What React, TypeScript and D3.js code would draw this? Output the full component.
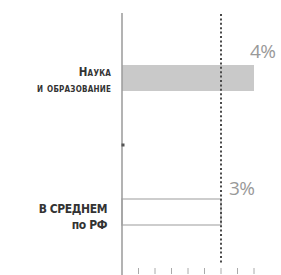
import { useEffect, useRef } from 'react'

import * as d3 from 'd3'

const categories = ['science', 'average']
const categoryLabels = [
  ['Наука', 'и образование'],
  ['В СРЕДНЕМ', 'по РФ'],
]
const values = [4, 3]
const valueLabels = ['4%', '3%']
const tickValues = [0.5, 1, 1.5, 2, 2.5, 3, 3.5, 4]
const averageValue = 3

const width = 281
const height = 275
const margin = { top: 13, left: 122 }

export default function App() {
  const svgRef = useRef<SVGSVGElement>(null)

  useEffect(() => {
    if (!svgRef.current) return
    d3.select(svgRef.current).selectAll('*').remove()
    const svg = d3.select(svgRef.current)

    const x = d3.scaleLinear().domain([0, 4]).range([margin.left, margin.left + 132])
    const y = d3
      .scaleBand<string>()
      .domain(categories)
      .range([11, 279])
      .paddingInner(0.806)
      .paddingOuter(0.403)

    svg.append('rect').attr('width', width).attr('height', height).attr('fill', '#fff')

    // bars
    svg
      .selectAll('rect.bar')
      .data(values)
      .join('rect')
      .attr('class', 'bar')
      .attr('x', x(0))
      .attr('y', (_, i) => y(categories[i])!)
      .attr('width', (d) => x(d) - x(0))
      .attr('height', y.bandwidth())
      .attr('fill', (d) => (d === averageValue ? '#fff' : '#c9c9c9'))
      .attr('stroke', (d) => (d === averageValue ? '#bdbdbd' : 'none'))
      .attr('stroke-width', 1.5)

    // axis line
    svg
      .append('line')
      .attr('x1', x(0))
      .attr('x2', x(0))
      .attr('y1', margin.top)
      .attr('y2', height)
      .attr('stroke', '#9a9a9a')
      .attr('stroke-width', 1.5)

    // bottom ticks
    svg
      .selectAll('line.tick')
      .data(tickValues)
      .join('line')
      .attr('class', 'tick')
      .attr('x1', (d) => x(d))
      .attr('x2', (d) => x(d))
      .attr('y1', 268)
      .attr('y2', 274)
      .attr('stroke', '#aaa')
      .attr('stroke-width', 1)

    // marker between categories
    const mid = (y(categories[0])! + y(categories[1])! + y.bandwidth()) / 2
    svg
      .append('rect')
      .attr('x', x(0) - 0.5)
      .attr('y', mid - 1.5)
      .attr('width', 3)
      .attr('height', 3)
      .attr('fill', '#555')

    // average dotted line
    svg
      .append('line')
      .attr('x1', x(averageValue))
      .attr('x2', x(averageValue))
      .attr('y1', 14)
      .attr('y2', 263)
      .attr('stroke', '#4a4a4a')
      .attr('stroke-width', 2)
      .attr('stroke-dasharray', '2 2.4')

    // value labels
    svg
      .selectAll('text.value')
      .data(values)
      .join('text')
      .attr('class', 'value')
      .attr('x', (d) => x(d) + (d === averageValue ? 8 : -4))
      .attr('y', (_, i) => y(categories[i])! - (i === 0 ? 7 : 4))
      .attr('fill', '#999')
      .attr('font-family', 'Open Sans, sans-serif')
      .attr('font-size', 19)
      .style('letter-spacing', '-0.5px')
      .text((_, i) => valueLabels[i])

    // category labels
    categoryLabels.forEach((lines, i) => {
      const cy = y(categories[i])! + y.bandwidth() / 2
      const t = svg
        .append('text')
        .attr('text-anchor', 'end')
        .attr('fill', '#333')
        .attr('font-family', 'DejaVu Sans Condensed, Liberation Sans Narrow, sans-serif')
        .attr('font-weight', 'bold')
        .attr('font-size', i === 0 ? 11.5 : 12)
        .style('font-variant', i === 0 ? 'small-caps' : 'normal')
        .style('letter-spacing', i === 0 ? '0.2px' : '-0.4px')
      lines.forEach((line, j) => {
        t.append('tspan')
          .attr('x', x(0) - (i === 0 ? 11 : 15))
          .attr('y', cy - (i === 0 ? 2 : -1) + j * 16)
          .text(line)
      })
    })
  }, [])

  return (
    <svg
      ref={svgRef}
      width={width}
      height={height}
      style={{ position: 'absolute', left: 0, top: 0 }}
    />
  )
}
